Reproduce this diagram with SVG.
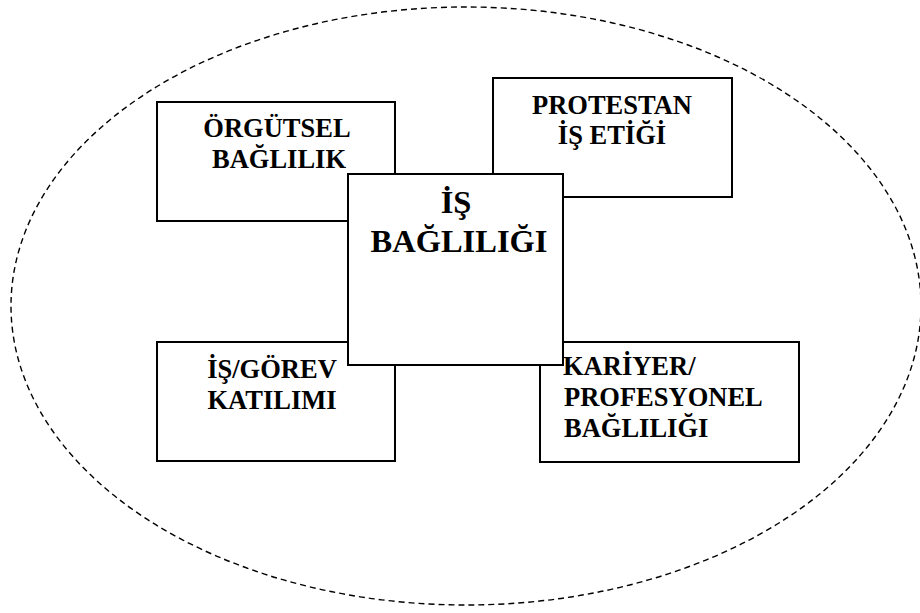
<svg xmlns="http://www.w3.org/2000/svg" width="920" height="613" viewBox="0 0 920 613">
  <style>
    .box { fill: #ffffff; stroke: #000000; stroke-width: 2; }
    .lbl { font-family: "Liberation Serif", "Times New Roman", serif; font-weight: bold; font-size: 26.5px; fill: #000000; }
    .mid { text-anchor: middle; }
    .big { font-size: 32.5px; }
    .boundary { fill: none; stroke: #000000; stroke-width: 1.4; stroke-dasharray: 6 4; }
  </style>
  <rect width="920" height="613" fill="#ffffff"/>

  <!-- dashed boundary around the whole concept -->
  <g id="connectors">
    <ellipse class="boundary" cx="466" cy="306" rx="455" ry="299"/>
  </g>

  <g id="orgutsel">
    <rect class="box" x="157" y="102" width="238" height="119"/>
    <text class="lbl mid" x="277" y="137">ÖRGÜTSEL</text>
    <text class="lbl mid" x="279" y="168">BAĞLILIK</text>
  </g>

  <g id="protestan">
    <rect class="box" x="493" y="78" width="239" height="119"/>
    <text class="lbl mid" x="612" y="114">PROTESTAN</text>
    <text class="lbl mid" x="612" y="144">İŞ ETİĞİ</text>
  </g>

  <g id="gorev">
    <rect class="box" x="157" y="342" width="238" height="119"/>
    <text class="lbl mid" x="272" y="378">İŞ/GÖREV</text>
    <text class="lbl mid" x="272" y="409">KATILIMI</text>
  </g>

  <g id="is-bagliligi">
    <rect class="box" x="348" y="174" width="215" height="191"/>
    <text class="lbl big mid" x="456" y="213">İŞ</text>
    <text class="lbl big mid" x="459" y="252">BAĞLILIĞI</text>
  </g>

  <!-- lower-right box: outline runs around the corner of the central box -->
  <g id="kariyer">
    <path class="box" d="M563 342 H799 V462 H540 V365 H563 Z"/>
    <text class="lbl" x="563" y="375">KARİYER/</text>
    <text class="lbl" x="564" y="406">PROFESYONEL</text>
    <text class="lbl" x="564" y="437">BAĞLILIĞI</text>
  </g>
</svg>
